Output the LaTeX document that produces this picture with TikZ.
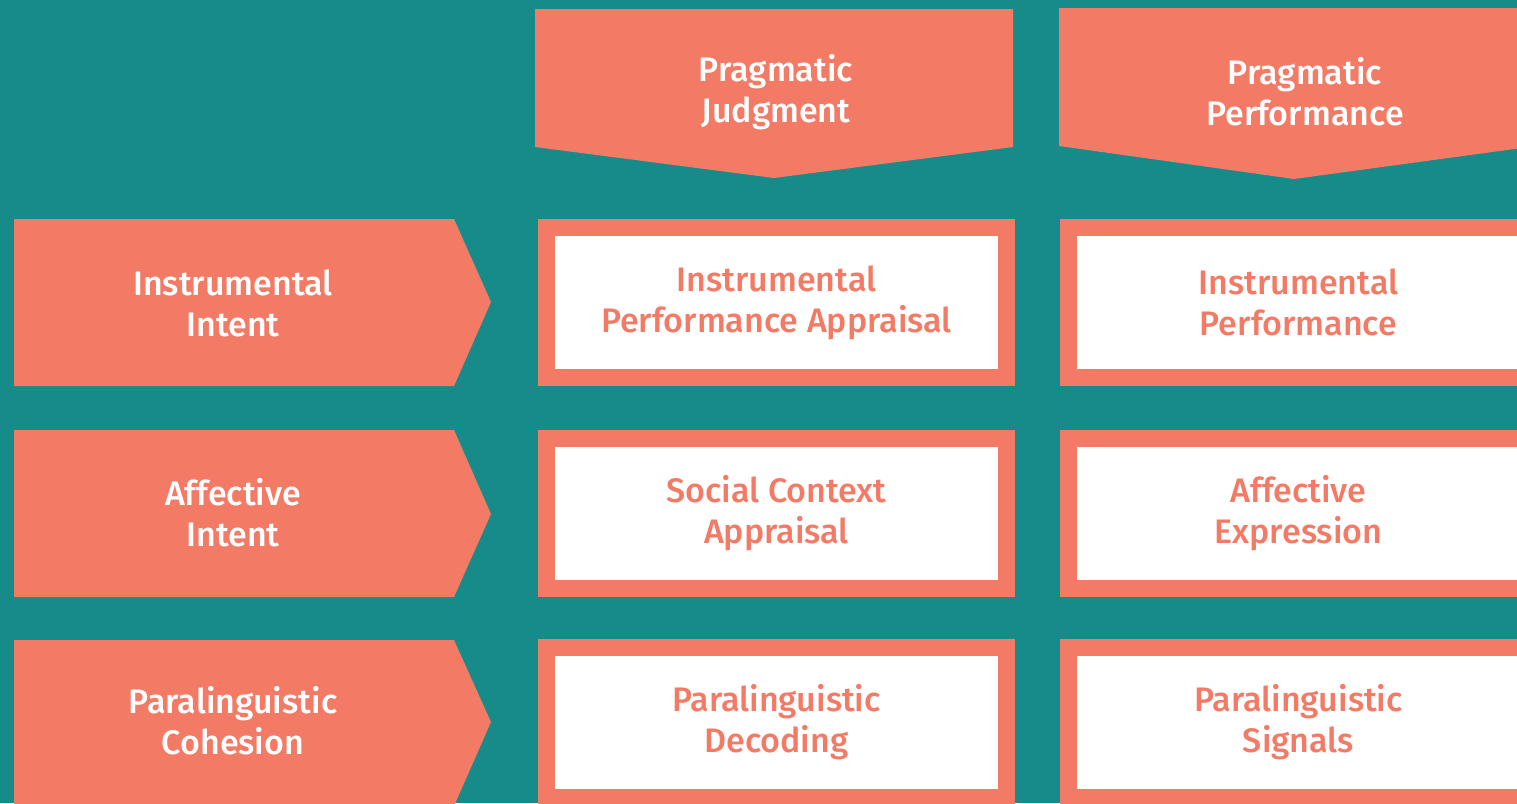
\documentclass[tikz,border=0pt]{standalone}
\usepackage{fontspec}
\setmainfont{Fira Sans}[UprightFont=* Medium]
\usepackage{xcolor}
\definecolor{coral}{HTML}{F37B66}
\definecolor{teal}{HTML}{168B89}
\definecolor{paper}{HTML}{FFFFFF}
\tikzset{
  head/.style={fill=coral},
  lab/.style={text=paper, align=center, font=\fontsize{34}{41}\selectfont},
  cell/.style={draw=coral, fill=paper, line width=17pt, minimum width=460pt,
    minimum height=150pt, inner sep=0pt, text=coral, align=center,
    font=\fontsize{34}{41}\selectfont},
}
\begin{document}
\begin{tikzpicture}[x=1pt,y=-1pt]
  \useasboundingbox (0,0) rectangle (1517,803);
  \fill[teal] (0,0) rectangle (1517,803);
  % column heads
  \fill[head] (535,9) -- (1013,9) -- (1013,147) -- (774,178) -- (535,147) -- cycle;
  \fill[head] (1059,8) -- (1529,8) -- (1529,147) -- (1294,179) -- (1059,146) -- cycle;
  \node[lab] (judg) at (776,92) {Pragmatic\\Judgment};
  \node[lab] (perf) at (1305,92) {Pragmatic\\Performance};
  % row heads
  \fill[head] (14,219) -- (454,219) -- (491,302) -- (454,386) -- (14,386) -- cycle;
  \fill[head] (14,430) -- (454,430) -- (491,514) -- (454,597) -- (14,597) -- cycle;
  \fill[head] (14,640) -- (454,640) -- (491,722) -- (454,806) -- (14,806) -- cycle;
  \node[lab] (instr) at (233,303) {Instrumental\\Intent};
  \node[lab] (affect) at (233,513) {Affective\\Intent};
  \node[lab] (para) at (233,721) {Paralinguistic\\Cohesion};
  % cells
  \node[cell] (c11) at (776.5,302.5) {Instrumental\\Performance Appraisal};
  \node[cell] (c21) at (776.5,513.5) {Social Context\\Appraisal};
  \node[cell] (c31) at (776.5,722) {Paralinguistic\\Decoding};
  \node[cell] (c12) at (1298.5,302.5) {Instrumental\\Performance};
  \node[cell] (c22) at (1298.5,513.5) {Affective\\Expression};
  \node[cell] (c32) at (1298.5,722) {Paralinguistic\\Signals};
\end{tikzpicture}
\end{document}
